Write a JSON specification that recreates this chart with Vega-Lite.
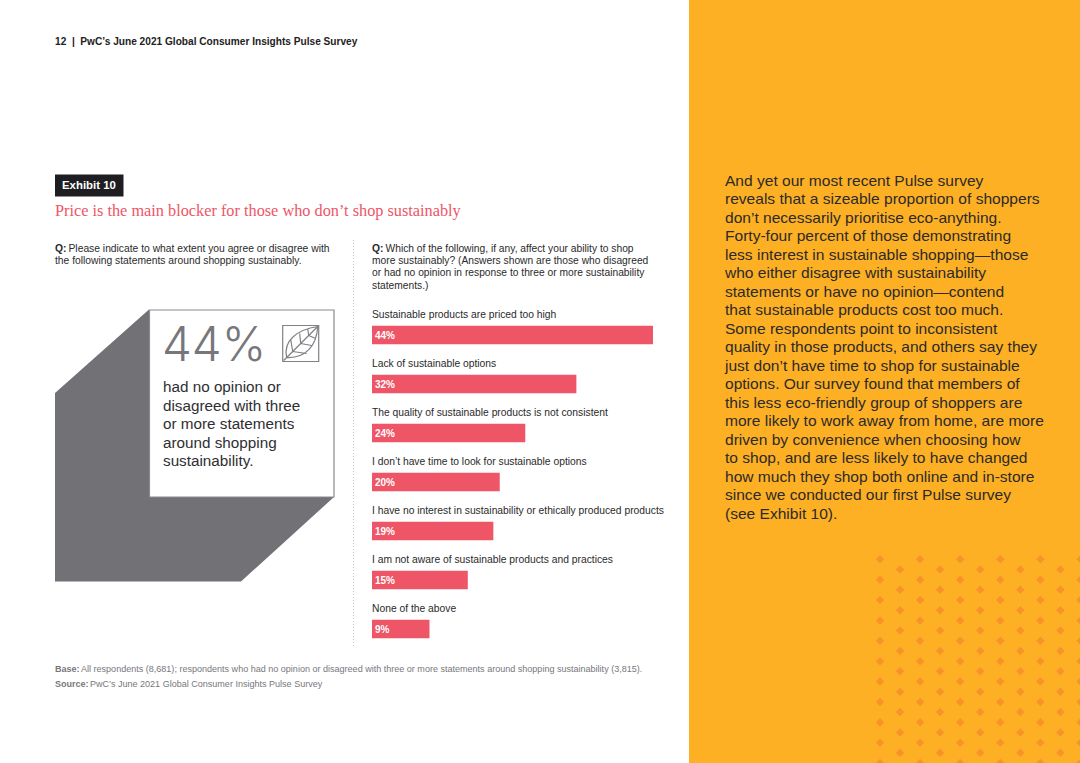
{"$schema":"https://vega.github.io/schema/vega-lite/v6.json","width":1080,"height":763,"padding":0,"autosize":{"type":"fit","contains":"padding"},"background":"#ffffff","config":{"view":{"stroke":null},"text":{"font":"Liberation Sans"}},"resolve":{"scale":{"x":"independent","y":"independent"}},"layer":[
{"data":{"values":[{}]},"mark":{"type":"rect","color":"#FEB024"},"encoding":{"x":{"value":689},"x2":{"value":1080},"y":{"value":0},"y2":{"value":763}}},
{"data":{"values":[{"col":0,"row":0},{"col":0,"row":2},{"col":0,"row":4},{"col":0,"row":6},{"col":0,"row":8},{"col":0,"row":10},{"col":0,"row":12},{"col":0,"row":14},{"col":0,"row":16},{"col":0,"row":18},{"col":0,"row":20},{"col":1,"row":1},{"col":1,"row":3},{"col":1,"row":5},{"col":1,"row":7},{"col":1,"row":9},{"col":1,"row":11},{"col":1,"row":13},{"col":1,"row":15},{"col":1,"row":17},{"col":1,"row":19},{"col":2,"row":0},{"col":2,"row":2},{"col":2,"row":4},{"col":2,"row":6},{"col":2,"row":8},{"col":2,"row":10},{"col":2,"row":12},{"col":2,"row":14},{"col":2,"row":16},{"col":2,"row":18},{"col":2,"row":20},{"col":3,"row":1},{"col":3,"row":3},{"col":3,"row":5},{"col":3,"row":7},{"col":3,"row":9},{"col":3,"row":11},{"col":3,"row":13},{"col":3,"row":15},{"col":3,"row":17},{"col":3,"row":19},{"col":4,"row":0},{"col":4,"row":2},{"col":4,"row":4},{"col":4,"row":6},{"col":4,"row":8},{"col":4,"row":10},{"col":4,"row":12},{"col":4,"row":14},{"col":4,"row":16},{"col":4,"row":18},{"col":4,"row":20},{"col":5,"row":1},{"col":5,"row":3},{"col":5,"row":5},{"col":5,"row":7},{"col":5,"row":9},{"col":5,"row":11},{"col":5,"row":13},{"col":5,"row":15},{"col":5,"row":17},{"col":5,"row":19},{"col":6,"row":0},{"col":6,"row":2},{"col":6,"row":4},{"col":6,"row":6},{"col":6,"row":8},{"col":6,"row":10},{"col":6,"row":12},{"col":6,"row":14},{"col":6,"row":16},{"col":6,"row":18},{"col":6,"row":20},{"col":7,"row":1},{"col":7,"row":3},{"col":7,"row":5},{"col":7,"row":7},{"col":7,"row":9},{"col":7,"row":11},{"col":7,"row":13},{"col":7,"row":15},{"col":7,"row":17},{"col":7,"row":19},{"col":8,"row":0},{"col":8,"row":2},{"col":8,"row":4},{"col":8,"row":6},{"col":8,"row":8},{"col":8,"row":10},{"col":8,"row":12},{"col":8,"row":14},{"col":8,"row":16},{"col":8,"row":18},{"col":8,"row":20},{"col":9,"row":1},{"col":9,"row":3},{"col":9,"row":5},{"col":9,"row":7},{"col":9,"row":9},{"col":9,"row":11},{"col":9,"row":13},{"col":9,"row":15},{"col":9,"row":17},{"col":9,"row":19},{"col":10,"row":0},{"col":10,"row":2},{"col":10,"row":4},{"col":10,"row":6},{"col":10,"row":8},{"col":10,"row":10},{"col":10,"row":12},{"col":10,"row":14},{"col":10,"row":16},{"col":10,"row":18},{"col":10,"row":20}]},"mark":{"type":"point","shape":"diamond","filled":true,"size":72,"color":"#F8932B","opacity":1},"encoding":{"x":{"field":"col","type":"quantitative","axis":null,"scale":{"domain":[0,10],"nice":false,"range":[880,1080.5]}},"y":{"field":"row","type":"quantitative","axis":null,"scale":{"domain":[0,20],"nice":false,"range":[559.3,763]}}}},
{"data":{"values":[{}]},"mark":{"type":"point","filled":true,"opacity":1,"size":4,"color":"#717176","shape":"M55,393 L149,309.5 L149,497 L334,497 L241,581.5 L55,581.5 Z"},"encoding":{"x":{"value":0},"y":{"value":0}}},
{"data":{"values":[{}]},"mark":{"type":"rect","fill":"#ffffff","stroke":"#8a8a8e","strokeWidth":1.2},"encoding":{"x":{"value":149.5},"x2":{"value":334},"y":{"value":310},"y2":{"value":497}}},
{"data":{"values":[{}]},"mark":{"type":"point","opacity":1,"size":4,"fill":"#ffffff","stroke":"#808085","strokeWidth":1.2,"shape":"M-18,-18 L18,-18 L18,18 L-18,18 Z M-17,17 L17,-17 M-14,14 C-18,-3 -3,-14 17,-17 C16,3 4,15 -14,14 M-8,8 L-10,-4 M-8,8 L6,10 M0,0 L-1,-10 M0,0 L11,2 M8,-8 L7,-15 M8,-8 L15,-5"},"encoding":{"x":{"value":300.7},"y":{"value":343.5}}},
{"data":{"values":[{}]},"mark":{"type":"rect","color":"#1E1E22"},"encoding":{"x":{"value":55},"x2":{"value":123.5},"y":{"value":174.5},"y2":{"value":196.5}}},
{"data":{"values":[{}]},"mark":{"type":"rule","color":"#c4c4c4","strokeDash":[1,2],"strokeWidth":1},"encoding":{"x":{"value":353.5},"y":{"value":240},"y2":{"value":647}}},
{"data":{"values":[{"label":"12\u00a0\u00a0|\u00a0\u00a0PwC’s June 2021 Global Consumer Insights Pulse Survey"}]},"mark":{"type":"text","align":"left","baseline":"middle","fontSize":10.15,"fontWeight":"bold","color":"#222222"},"encoding":{"x":{"value":55},"y":{"value":41.5},"text":{"field":"label"}}},
{"data":{"values":[{"label":"Exhibit 10"}]},"mark":{"type":"text","align":"left","baseline":"middle","fontSize":11.4,"fontWeight":"bold","color":"#ffffff"},"encoding":{"x":{"value":62},"y":{"value":186},"text":{"field":"label"}}},
{"data":{"values":[{"label":"Price is the main blocker for those who don’t shop sustainably"}]},"mark":{"type":"text","align":"left","baseline":"middle","fontSize":16.3,"font":"Liberation Serif","color":"#EE5566"},"encoding":{"x":{"value":55},"y":{"value":211},"text":{"field":"label"}}},
{"data":{"values":[{"label":"Q:"}]},"mark":{"type":"text","align":"left","baseline":"middle","fontSize":10.3,"fontWeight":"bold","color":"#2a2a2a"},"encoding":{"x":{"value":55},"y":{"value":248.5},"text":{"field":"label"}}},
{"data":{"values":[{"label":"Q:"}]},"mark":{"type":"text","align":"left","baseline":"middle","fontSize":10.3,"fontWeight":"bold","color":"#2a2a2a"},"encoding":{"x":{"value":372},"y":{"value":248.5},"text":{"field":"label"}}},
{"data":{"values":[{"label":"Please indicate to what extent you agree or disagree with"}]},"mark":{"type":"text","align":"left","baseline":"middle","fontSize":10.3,"color":"#2a2a2a"},"encoding":{"x":{"value":68.5},"y":{"value":248.5},"text":{"field":"label"}}},
{"data":{"values":[{"label":"the following statements around shopping sustainably."}]},"mark":{"type":"text","align":"left","baseline":"middle","fontSize":10.3,"color":"#2a2a2a"},"encoding":{"x":{"value":55},"y":{"value":260.5},"text":{"field":"label"}}},
{"data":{"values":[{"label":"Which of the following, if any, affect your ability to shop"}]},"mark":{"type":"text","align":"left","baseline":"middle","fontSize":10.25,"color":"#2a2a2a"},"encoding":{"x":{"value":385.5},"y":{"value":248.5},"text":{"field":"label"}}},
{"data":{"values":[{"line":1,"label":"more sustainably? (Answers shown are those who disagreed"},{"line":2,"label":"or had no opinion in response to three or more sustainability"},{"line":3,"label":"statements.)"}]},"mark":{"type":"text","align":"left","baseline":"middle","fontSize":10.25,"color":"#2a2a2a"},"encoding":{"x":{"value":372},"y":{"field":"line","type":"ordinal","axis":null,"scale":{"type":"point","padding":0,"range":[260.5,285.5]}},"text":{"field":"label"}}},
{"data":{"values":[{"label":"44%"}]},"mark":{"type":"text","align":"left","baseline":"middle","fontSize":47.5,"font":"Inter","fontWeight":300,"color":"#77777b"},"encoding":{"x":{"value":162},"y":{"value":347},"text":{"field":"label"}}},
{"data":{"values":[{"line":1,"label":"had no opinion or"},{"line":2,"label":"disagreed with three"},{"line":3,"label":"or more statements"},{"line":4,"label":"around shopping"},{"line":5,"label":"sustainability."}]},"mark":{"type":"text","align":"left","baseline":"middle","fontSize":15.25,"color":"#2e2e32"},"encoding":{"x":{"value":163},"y":{"field":"line","type":"ordinal","axis":null,"scale":{"type":"point","padding":0,"range":[387,461]}},"text":{"field":"label"}}},
{"data":{"values":[{"category":"Sustainable products are priced too high","share":0.44},{"category":"Lack of sustainable options","share":0.32},{"category":"The quality of sustainable products is not consistent","share":0.24},{"category":"I don’t have time to look for sustainable options","share":0.20},{"category":"I have no interest in sustainability or ethically produced products","share":0.19},{"category":"I am not aware of sustainable products and practices","share":0.15},{"category":"None of the above","share":0.09}]},"encoding":{"y":{"field":"category","type":"nominal","sort":null,"axis":null,"scale":{"type":"band","range":[310.5,653.5],"paddingInner":0.62,"paddingOuter":0.31}}},"layer":[
{"mark":{"type":"bar","color":"#EE5566"},"encoding":{"x":{"field":"share","type":"quantitative","axis":null,"scale":{"domain":[0,0.44],"nice":false,"range":[372,653]}}}},
{"mark":{"type":"text","align":"left","baseline":"middle","dx":3,"dy":0.5,"fontSize":10,"fontWeight":"bold","color":"#ffffff"},"encoding":{"x":{"datum":0,"type":"quantitative"},"text":{"field":"share","type":"quantitative","format":".0%"}}},
{"mark":{"type":"text","align":"left","baseline":"middle","dy":-20.5,"fontSize":10.3,"color":"#2a2a2a"},"encoding":{"x":{"datum":0,"type":"quantitative"},"text":{"field":"category"}}}
]},
{"data":{"values":[{"line":1,"label":"Base:"},{"line":2,"label":"Source:"}]},"mark":{"type":"text","align":"left","baseline":"middle","fontSize":9,"fontWeight":"bold","color":"#77777b"},"encoding":{"x":{"value":55},"y":{"field":"line","type":"ordinal","axis":null,"scale":{"type":"point","padding":0,"range":[669,684]}},"text":{"field":"label"}}},
{"data":{"values":[{"label":"All respondents (8,681); respondents who had no opinion or disagreed with three or more statements around shopping sustainability (3,815)."}]},"mark":{"type":"text","align":"left","baseline":"middle","fontSize":9.04,"color":"#77777b"},"encoding":{"x":{"value":81},"y":{"value":669},"text":{"field":"label"}}},
{"data":{"values":[{"label":"PwC’s June 2021 Global Consumer Insights Pulse Survey"}]},"mark":{"type":"text","align":"left","baseline":"middle","fontSize":9.04,"color":"#77777b"},"encoding":{"x":{"value":90},"y":{"value":684},"text":{"field":"label"}}},
{"data":{"values":[{"line":1,"label":"And yet our most recent Pulse survey"},{"line":2,"label":"reveals that a sizeable proportion of shoppers"},{"line":3,"label":"don’t necessarily prioritise eco-anything."},{"line":4,"label":"Forty-four percent of those demonstrating"},{"line":5,"label":"less interest in sustainable shopping—those"},{"line":6,"label":"who either disagree with sustainability"},{"line":7,"label":"statements or have no opinion—contend"},{"line":8,"label":"that sustainable products cost too much."},{"line":9,"label":"Some respondents point to inconsistent"},{"line":10,"label":"quality in those products, and others say they"},{"line":11,"label":"just don’t have time to shop for sustainable"},{"line":12,"label":"options. Our survey found that members of"},{"line":13,"label":"this less eco-friendly group of shoppers are"},{"line":14,"label":"more likely to work away from home, are more"},{"line":15,"label":"driven by convenience when choosing how"},{"line":16,"label":"to shop, and are less likely to have changed"},{"line":17,"label":"how much they shop both online and in-store"},{"line":18,"label":"since we conducted our first Pulse survey"},{"line":19,"label":"(see Exhibit 10)."}]},"mark":{"type":"text","align":"left","baseline":"middle","fontSize":15.55,"color":"#2b2a29"},"encoding":{"x":{"value":725},"y":{"field":"line","type":"ordinal","sort":null,"axis":null,"scale":{"type":"point","padding":0,"range":[181,513.5]}},"text":{"field":"label"}}}
]}
